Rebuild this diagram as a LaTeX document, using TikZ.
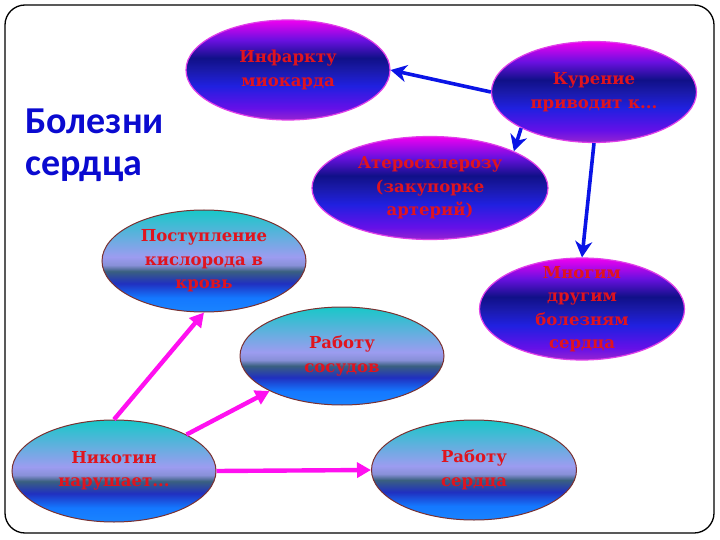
\documentclass[tikz,border=0pt]{standalone}
\usepackage{fontspec}
\newfontfamily\titlefont{Carlito}
\newfontfamily\cellfont{DejaVu Serif}
\usetikzlibrary{shapes.geometric,arrows.meta}

\definecolor{titleblue}{HTML}{0A0AD0}
\definecolor{textred}{HTML}{E0141E}
\definecolor{arrblue}{HTML}{0A14E6}
\definecolor{arrpink}{HTML}{FF10F0}
\definecolor{rimpink}{HTML}{E040E8}
\definecolor{rimbrown}{HTML}{7A3030}

% purple / navy fill, bottom to top
\pgfdeclareverticalshading{purpshade}{100bp}{color(0bp)=(rgb,255:red,150;green,36;blue,208);
  color(25bp)=(rgb,255:red,150;green,36;blue,208);
  color(31bp)=(rgb,255:red,100;green,16;blue,232);
  color(42bp)=(rgb,255:red,32;green,32;blue,224);
  color(50bp)=(rgb,255:red,26;green,26;blue,170);
  color(56bp)=(rgb,255:red,16;green,16;blue,136);
  color(65bp)=(rgb,255:red,106;green,16;blue,224);
  color(75bp)=(rgb,255:red,240;green,0;blue,240);
  color(100bp)=(rgb,255:red,240;green,0;blue,240)}
% cyan / blue fill, bottom to top
\pgfdeclareverticalshading{cyanshade}{100bp}{color(0bp)=(rgb,255:red,26;green,132;blue,255);
  color(25bp)=(rgb,255:red,26;green,132;blue,255);
  color(32bp)=(rgb,255:red,20;green,120;blue,255);
  color(39bp)=(rgb,255:red,32;green,48;blue,192);
  color(45bp)=(rgb,255:red,58;green,96;blue,128);
  color(48bp)=(rgb,255:red,136;green,144;blue,216);
  color(52bp)=(rgb,255:red,156;green,156;blue,240);
  color(75bp)=(rgb,255:red,24;green,200;blue,200);
  color(100bp)=(rgb,255:red,24;green,200;blue,200)}

\tikzset{
  cell/.style={ellipse, inner sep=-22pt, align=center, text=textred,
    font=\cellfont\bfseries\fontsize{16.5}{23.5}\selectfont},
  purpell/.style={cell, shading=purpshade, draw=rimpink, line width=1.2pt},
  cyanell/.style={cell, shading=cyanshade, draw=rimbrown, line width=1pt},
  bluearr/.style={draw=arrblue, line width=3.6pt,
    -{Stealth[length=16pt,width=17pt,inset=5pt]}},
  pinkarr/.style={draw=arrpink, line width=4.4pt,
    -{Triangle[length=14pt,width=15pt]}}
}

\begin{document}
\begin{tikzpicture}[x=1pt,y=-1pt]
    \useasboundingbox (0,0) rectangle (720,540);
    % Frame
    \draw[line width=1.3pt, rounded corners=20pt] (5,5) rectangle (714,533);

    % Title
    \node[anchor=north west, inner sep=0pt, align=left, text=titleblue,
          font=\titlefont\bfseries\fontsize{38}{42}\selectfont] (title) at (25,109) {Болезни\\сердца};

    % Smoking and its results
    \node[purpell, minimum width=204pt, minimum height=100pt] (inf)  at (288,70)  {Инфаркту\\миокарда};
    \node[purpell, minimum width=205pt, minimum height=101pt] (kur)  at (594,92)  {Курение\\приводит к...};
    \node[purpell, minimum width=236pt, minimum height=103pt] (ater) at (430,188) {Атеросклерозу\\(закупорке\\артерий)};
    \node[purpell, minimum width=205pt, minimum height=102pt] (mnog) at (582,309) {Многим\\другим\\болезням\\сердца};

    % Nicotine and its results
    \node[cyanell, minimum width=204pt, minimum height=102pt] (post) at (204,261) {Поступление\\кислорода в\\кровь};
    \node[cyanell, minimum width=204pt, minimum height=98pt]  (sos)  at (342,356) {Работу\\сосудов};
    \node[cyanell, minimum width=204pt, minimum height=102pt] (nik)  at (114,471) {Никотин\\нарушает...};
    \node[cyanell, minimum width=205pt, minimum height=100pt] (serd) at (474,470) {Работу\\сердца};

    % Blue arrows
    \draw[bluearr] (kur.west) -- (inf.east);
    \draw[bluearr] (kur.south west) -- (ater.north east);
    \draw[bluearr] (kur.south) -- (mnog.north);

    % Pink arrows
    \draw[pinkarr] (nik.north) -- (post.south);
    \draw[pinkarr] (nik.north east) -- (sos.south west);
    \draw[pinkarr] (nik.east) -- (serd.west);
\end{tikzpicture}
\end{document}
